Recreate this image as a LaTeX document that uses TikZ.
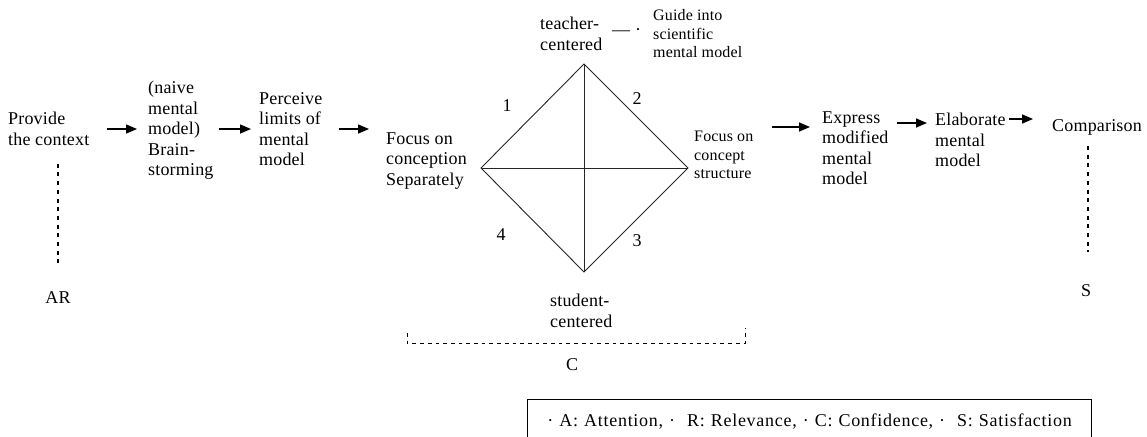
\documentclass[tikz,border=0pt]{standalone}
\usepackage{fontspec}
\setmainfont{Liberation Serif}[LetterSpace=1]
\usetikzlibrary{arrows.meta,calc}

\tikzset{
  txt/.style={inner sep=0pt, align=left, anchor=west, font=\fontsize{18}{20.5}\selectfont},
  smalltxt/.style={txt, font=\fontsize{16}{18.5}\selectfont},
  flow/.style={line width=1.5pt, -{Triangle[length=11pt,width=9pt]}},
  edge/.style={line width=0.9pt, black!85},
  dotline/.style={line width=1.2pt, dash pattern=on 4pt off 4.7pt},
  dashline/.style={line width=1pt, dash pattern=on 3.7pt off 4pt},
}

\begin{document}
\begin{tikzpicture}[x=1pt, y=-1pt]
    \useasboundingbox (0,0) rectangle (1147,436);

    %% NOTE:
    %% steps of the lesson, left to right
    \node[txt] (ctx)      at (8,129)     {Provide\\the context};
    \node[txt] (naive)    at (148,130.5) {(naive\\mental\\model)\\Brain-\\storming};
    \node[txt] (perceive) at (259,129)   {Perceive\\limits of\\mental\\model};
    \node[txt] (sep)      at (386,161)   {Focus on\\conception\\Separately};
    \node[smalltxt] (struct) at (694,155) {Focus on\\concept\\structure};
    \node[txt] (express)  at (822,148)   {Express\\modified\\mental\\model};
    \node[txt] (elab)     at (935,140)   {Elaborate\\mental\\model};
    \node[txt] (comp)     at (1052,127)  {Comparison};

    %% arrows between the steps
    \draw[flow, shorten <=18pt, shorten >=11pt] (ctx.east) -- (naive.west |- ctx.east);
    \draw[flow, shorten <=5pt, shorten >=8pt] (naive.east |- perceive.west) -- (perceive.west);
    \draw[flow, shorten <=16pt, shorten >=17pt] (perceive.east) -- (perceive.east -| sep.west);
    \draw[flow, shorten <=18pt, shorten >=12pt] (struct.east |- comp.west) -- (express.west |- comp.west);
    \draw[flow, shorten <=8pt, shorten >=8pt] ($(express.east)+(0,-25)$) -- ($(elab.west |- express.east)+(0,-25)$);
    \draw[flow, shorten <=3pt, shorten >=19pt] ($(elab.east)+(0,-21)$) -- ($(comp.west |- elab.east)+(0,-21)$);

    %% diamond
    \coordinate (top) at (584,64);
    \coordinate (lft) at (481,168);
    \coordinate (rgt) at (688,168);
    \coordinate (bot) at (584,272);
    \draw[edge] (top) -- (rgt) -- (bot) -- (lft) -- cycle;
    \draw[edge] (top) -- (bot);
    \draw[edge] (lft) -- (rgt);
    \node[txt, anchor=center] (n1) at (507,106) {1};
    \node[txt, anchor=center] (n2) at (637,99)  {2};
    \node[txt, anchor=center] (n3) at (637,241) {3};
    \node[txt, anchor=center] (n4) at (501,235) {4};

    %% corners of the diamond
    \node[txt] (teacher) at (540,34)  {teacher-\\centered};
    \node[txt] (dash)    at (612,32)  {---\hspace{5pt}·};
    \node[smalltxt] (guide) at (653,34) {Guide into\\scientific\\mental model};
    \node[txt] (student) at (550,311) {student-\\centered};

    %% ARCS labels
    \node[txt, anchor=center] (ar) at (58,298)   {AR};
    \node[txt, anchor=center] (s)  at (1086,291) {S};
    \node[txt, anchor=center] (c)  at (572,365)  {C};
    \draw[dotline] ($(ctx.south -| ar.north)+(0,18)$) -- ($(ar.north)+(0,-26)$);
    \draw[dotline] ($(comp.south -| 1088,0)+(0,11)$) -- ($(s.north -| 1088,0)+(0,-33)$);
    \draw[dashline] (407,333) |- (745,343) -- (745,328);

    %% legend
    \node[txt, draw, line width=0.9pt, anchor=north west, text width=524pt,
          inner xsep=20pt, minimum height=44pt] (legend) at (527,399)
          {\addfontfeatures{LetterSpace=4}%
           · A: Attention, ·\ \ R: Relevance, · C: Confidence, ·\ \ S: Satisfaction};
\end{tikzpicture}
\end{document}
